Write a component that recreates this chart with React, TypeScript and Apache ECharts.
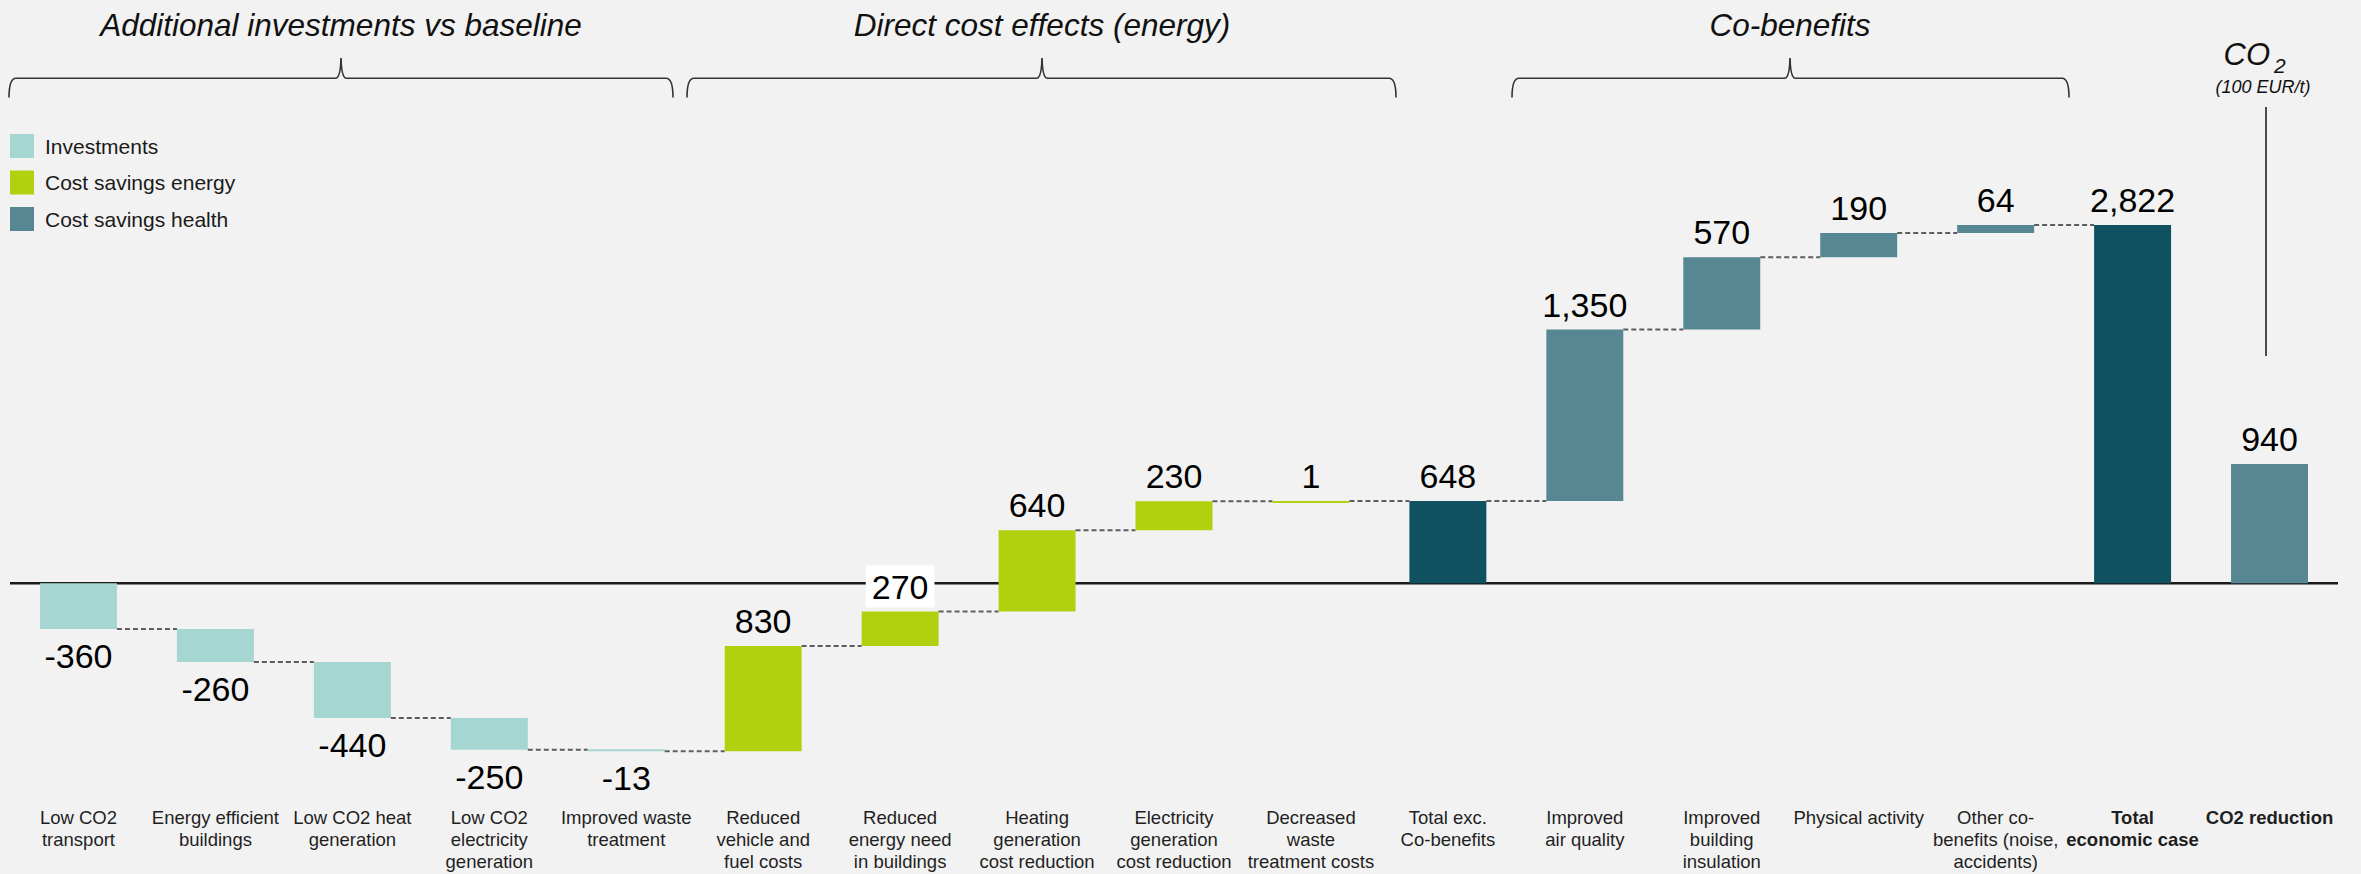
import React, { useEffect, useRef } from "react";
import * as echarts from "echarts";

const categories = [
  "Low CO2\ntransport",
  "Energy efficient\nbuildings",
  "Low CO2 heat\ngeneration",
  "Low CO2\nelectricity\ngeneration",
  "Improved waste\ntreatment",
  "Reduced\nvehicle and\nfuel costs",
  "Reduced\nenergy need\nin buildings",
  "Heating\ngeneration\ncost reduction",
  "Electricity\ngeneration\ncost reduction",
  "Decreased\nwaste\ntreatment costs",
  "Total exc.\nCo-benefits",
  "Improved\nair quality",
  "Improved\nbuilding\ninsulation",
  "Physical activity",
  "Other co-\nbenefits (noise,\naccidents)",
  "Total\neconomic case",
  "CO2 reduction",
];

const values = [-360, -260, -440, -250, -13, 830, 270, 640, 230, 1, 648, 1350, 570, 190, 64, 2822, 940];

// step: adds to running total, total: bar from zero to running total, separate: standalone bar from zero
const stepTypes = [
  "step", "step", "step", "step", "step",
  "step", "step", "step", "step", "step",
  "total",
  "step", "step", "step", "step",
  "total",
  "separate",
];

const groups = [
  "Investments", "Investments", "Investments", "Investments", "Investments",
  "Cost savings energy", "Cost savings energy", "Cost savings energy", "Cost savings energy", "Cost savings energy",
  "Total",
  "Cost savings health", "Cost savings health", "Cost savings health", "Cost savings health",
  "Total",
  "Cost savings health",
];

const legendNames = ["Investments", "Cost savings energy", "Cost savings health"];

const sectionTitles = ["Additional investments vs baseline", "Direct cost effects (energy)", "Co-benefits"];

const COLORS: Record<string, string> = {
  Investments: "#A5D6D2",
  "Cost savings energy": "#B1D10E",
  "Cost savings health": "#578793",
  Total: "#0F5161",
};

const FONT = "Liberation Sans, Arial, Helvetica, sans-serif";

function buildData() {
  let running = 0;
  return values.map((v, i) => {
    const t = stepTypes[i];
    if (t === "step") {
      const s = running;
      running += v;
      return [i, s, running, v];
    }
    return [i, 0, v, v];
  });
}

function brace(x0: number, xc: number, x1: number) {
  const yL = 78.3;
  const yE = 97.5;
  const yS = 58.3;
  const st = { stroke: "#333", lineWidth: 1.6, fill: "none" };
  return [
    { type: "bezierCurve", shape: { x1: x0, y1: yE, cpx1: x0, cpy1: yL, x2: x0 + 7, y2: yL }, style: st },
    { type: "line", shape: { x1: x0 + 7, y1: yL, x2: xc - 5, y2: yL }, style: st },
    { type: "bezierCurve", shape: { x1: xc - 5, y1: yL, cpx1: xc - 0.5, cpy1: yL - 1, x2: xc, y2: yS }, style: st },
    { type: "bezierCurve", shape: { x1: xc + 5, y1: yL, cpx1: xc + 0.5, cpy1: yL - 1, x2: xc, y2: yS }, style: st },
    { type: "line", shape: { x1: xc + 5, y1: yL, x2: x1 - 7, y2: yL }, style: st },
    { type: "bezierCurve", shape: { x1: x1 - 7, y1: yL, cpx1: x1, cpy1: yL, x2: x1, y2: yE }, style: st },
  ];
}

export default function App() {
  const ref = useRef<HTMLDivElement>(null);

  useEffect(() => {
    if (!ref.current) return;
    const chart = echarts.init(ref.current, undefined, { renderer: "svg" });
    const data = buildData();
    const n = values.length;

    const renderItem = (params: any, api: any) => {
      const i = api.value(0);
      const s = api.value(1);
      const e = api.value(2);
      const v = api.value(3);
      const [cx, ys] = api.coord([i, s]);
      const ye = api.coord([i, e])[1];
      const bw = api.size([1, 0])[0] * 0.562;
      let top = Math.min(ys, ye);
      let h = Math.abs(ys - ye);
      if (h < 2) {
        h = 2;
        top = v >= 0 ? ye : ye - 2;
      }
      const children: any[] = [];
      if (i === 0) {
        const cs = params.coordSys;
        const zy = api.coord([0, 0])[1];
        children.push({
          type: "line",
          shape: { x1: cs.x, y1: zy, x2: cs.x + cs.width, y2: zy },
          style: { stroke: "#1a1a1a", lineWidth: 2.5 },
        });
      }
      children.push({
        type: "rect",
        shape: { x: cx - bw / 2, y: top, width: bw, height: h },
        style: { fill: COLORS[groups[i]] },
      });
      if (i < n - 1 && stepTypes[i + 1] !== "separate") {
        const nx = api.coord([i + 1, e])[0];
        children.push({
          type: "line",
          shape: { x1: cx + bw / 2, y1: ye, x2: nx - bw / 2, y2: ye },
          style: { stroke: "#5e5e5e", lineWidth: 2, lineDash: [5, 3] },
        });
      }
      const zeroY = api.coord([0, 0])[1];
      const ly = v >= 0 ? top - 25 : top + h + 27;
      const overlap = Math.abs(ly - zeroY) < 20;
      const textStyle: any = {
        text: v.toLocaleString("en-US"),
        x: cx,
        y: ly,
        align: "center",
        verticalAlign: "middle",
        fontSize: 34,
        fontFamily: FONT,
        fill: "#000",
      };
      if (overlap) {
        textStyle.backgroundColor = "#ffffff";
        textStyle.padding = [4, 6, 4, 6];
      }
      children.push({ type: "text", style: textStyle });
      return { type: "group", children };
    };

    const braces = [
      ...brace(9, 341, 673),
      ...brace(687, 1042, 1396),
      ...brace(1512, 1790, 2069),
    ];
    const titleX = [341, 1042, 1790];

    const option: any = {
      animation: false,
      backgroundColor: "#F2F2F2",
      textStyle: { fontFamily: FONT },
      grid: { left: 10, right: 23, top: 202.3, bottom: 87.5, containLabel: false },
      legend: {
        data: legendNames,
        orient: "vertical",
        left: 10,
        top: 134,
        padding: 0,
        itemWidth: 24,
        itemHeight: 24,
        itemGap: 12.5,
        icon: "rect",
        selectedMode: false,
        textStyle: { fontSize: 21, color: "#1a1a1a", fontFamily: FONT, padding: [0, 0, 0, 6] },
      },
      xAxis: {
        type: "category",
        data: categories,
        axisLine: { show: false },
        axisTick: { show: false },
        splitLine: { show: false },
        axisLabel: {
          interval: 0,
          margin: 20,
          fontSize: 18.5,
          lineHeight: 22,
          color: "#1f1f1f",
          fontFamily: FONT,
          formatter: (val: string, idx: number) => {
            if (idx >= categories.length - 2) {
              return val
                .split("\n")
                .map((l) => "{b|" + l + "}")
                .join("\n");
            }
            return val;
          },
          rich: {
            b: { fontSize: 18.5, lineHeight: 22, fontWeight: "bold", color: "#1f1f1f", fontFamily: FONT },
          },
        },
      },
      yAxis: {
        type: "value",
        min: -1600,
        max: 3000,
        show: false,
        splitLine: { show: false },
      },
      series: [
        ...legendNames.map((nm) => ({
          type: "bar",
          name: nm,
          data: [],
          itemStyle: { color: COLORS[nm] },
        })),
        {
          type: "custom",
          name: "waterfall",
          renderItem,
          data,
          encode: { x: 0, y: [1, 2] },
          z: 3,
        },
      ],
      graphic: [
        ...braces,
        ...sectionTitles.map((t, k) => ({
          type: "text",
          style: {
            text: t,
            x: titleX[k],
            y: 25,
            align: "center",
            verticalAlign: "middle",
            fontSize: 31.5,
            fontStyle: "italic",
            fontFamily: FONT,
            fill: "#111",
          },
        })),
        {
          type: "text",
          style: {
            text: "CO",
            x: 2270,
            y: 54,
            align: "right",
            verticalAlign: "middle",
            fontSize: 31,
            fontStyle: "italic",
            fontFamily: FONT,
            fill: "#111",
          },
        },
        {
          type: "text",
          style: {
            text: "2",
            x: 2274,
            y: 65,
            align: "left",
            verticalAlign: "middle",
            fontSize: 21,
            fontStyle: "italic",
            fontFamily: FONT,
            fill: "#111",
          },
        },
        {
          type: "text",
          style: {
            text: "(100 EUR/t)",
            x: 2263,
            y: 87,
            align: "center",
            verticalAlign: "middle",
            fontSize: 18,
            fontStyle: "italic",
            fontFamily: FONT,
            fill: "#111",
          },
        },
        {
          type: "line",
          shape: { x1: 2266, y1: 107, x2: 2266, y2: 356 },
          style: { stroke: "#222", lineWidth: 1.6 },
        },
      ],
    };

    chart.setOption(option);
    return () => chart.dispose();
  }, []);

  return (
    <div
      ref={ref}
      style={{ position: "absolute", left: 0, top: 0, width: 2361, height: 874 }}
    />
  );
}
